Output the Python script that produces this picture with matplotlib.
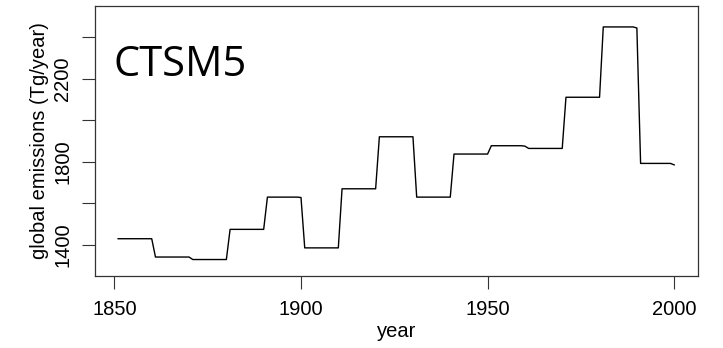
import numpy as np
import matplotlib.pyplot as plt

# yearly global emissions (Tg/year), one row per decade
years = np.arange(1851, 2001)
emis = np.array([
    1430, 1430, 1430, 1430, 1430, 1430, 1430, 1430, 1430, 1430,  # 1851-1860
    1342, 1342, 1342, 1342, 1342, 1342, 1342, 1342, 1342, 1342,  # 1861-1870
    1330, 1330, 1330, 1330, 1330, 1330, 1330, 1330, 1330, 1330,  # 1871-1880
    1475, 1475, 1475, 1475, 1475, 1475, 1475, 1475, 1475, 1475,  # 1881-1890
    1630, 1630, 1630, 1630, 1630, 1630, 1630, 1630, 1630, 1628,  # 1891-1900
    1386, 1386, 1386, 1386, 1386, 1386, 1386, 1386, 1386, 1386,  # 1901-1910
    1670, 1670, 1670, 1670, 1670, 1670, 1670, 1670, 1670, 1670,  # 1911-1920
    1920, 1920, 1920, 1920, 1920, 1920, 1920, 1920, 1920, 1920,  # 1921-1930
    1630, 1630, 1630, 1630, 1630, 1630, 1630, 1630, 1630, 1630,  # 1931-1940
    1837, 1837, 1837, 1837, 1837, 1837, 1837, 1837, 1837, 1837,  # 1941-1950
    1877, 1877, 1877, 1877, 1877, 1877, 1877, 1877, 1877, 1875,  # 1951-1960
    1864, 1864, 1864, 1864, 1864, 1864, 1864, 1864, 1864, 1864,  # 1961-1970
    2110, 2110, 2110, 2110, 2110, 2110, 2110, 2110, 2110, 2110,  # 1971-1980
    2448, 2448, 2448, 2448, 2448, 2448, 2448, 2448, 2448, 2443,  # 1981-1990
    1792, 1792, 1792, 1792, 1792, 1792, 1792, 1792, 1792, 1785,  # 1991-2000
])

yticks = [1400, 1600, 1800, 2000, 2200, 2400]
ylabels = ['1400', '', '1800', '', '2200', '']
xticks = [1850, 1900, 1950, 2000]

plt.rcParams['font.family'] = ['Liberation Sans', 'DejaVu Sans']

fig = plt.figure(figsize=(7.23, 3.48), dpi=100)
ax = fig.add_axes([0.1314, 0.207, 0.8336, 0.776])

ax.plot(years, emis, color='black', lw=1.0)

ax.set_xlim(1844.8, 2006.3)
ax.set_ylim(1251, 2549)
ax.set_xticks(xticks)
ax.set_yticks(yticks)
ax.set_yticklabels(ylabels, rotation=90, va='center')
ax.tick_params(direction='out', length=9.5, width=0.8, labelsize=14.5, color='#333333')
ax.tick_params(axis='x', pad=8)
ax.tick_params(axis='y', pad=7)
for s in ax.spines.values():
    s.set_linewidth(0.9)
    s.set_color('#333333')

ax.set_xlabel('year', fontsize=14.5, labelpad=2)
ax.set_ylabel('global emissions (Tg/year)', fontsize=14.5, labelpad=3)

ax.text(0.03, 0.74, 'CTSM5', transform=ax.transAxes, fontsize=30,
        family='Open Sans', va='baseline', ha='left')

fig.savefig('out.png', dpi=100)
